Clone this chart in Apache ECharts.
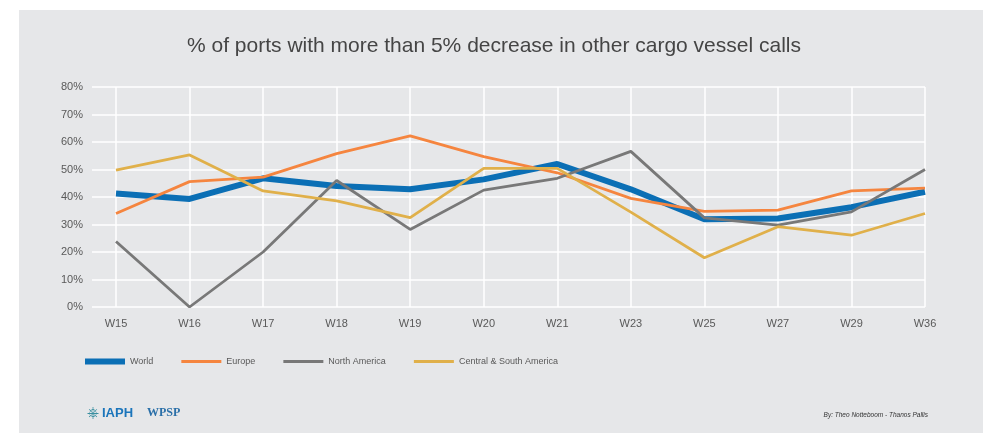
<!DOCTYPE html>
<html>
<head>
<meta charset="utf-8">
<script src="https://cdn.jsdelivr.net/npm/echarts@6/dist/echarts.min.js"></script>
<style>
    html, body { margin: 0; padding: 0; background: #ffffff; }
    #panel { position: absolute; left: 19px; top: 10px; width: 964px; height: 423px; background: #e6e7e9; }
</style>
</head>
<body>
<div id="panel"></div>
<script>
    // data
    var weeks = ['W15', 'W16', 'W17', 'W18', 'W19', 'W20', 'W21', 'W23', 'W25', 'W27', 'W29', 'W36'];
    var world = [41.3, 39.3, 46.8, 44, 42.8, 46.4, 52, 42.8, 31.9, 32.2, 36.3, 41.9];
    var europe = [34, 45.6, 47.2, 55.8, 62.2, 54.7, 48.8, 39.5, 34.8, 35.2, 42.2, 43.2];
    var northAmerica = [23.8, 0, 20, 46, 28.2, 42.5, 46.8, 56.6, 32.4, 29.8, 34.6, 50];
    var centralSouth = [49.8, 55.3, 42.2, 38.6, 32.5, 50.4, 50.4, 34.5, 17.9, 29.2, 26.1, 34];
    var yTicks = [0, 10, 20, 30, 40, 50, 60, 70, 80];

    var chart = echarts.init(document.getElementById('panel'));
    var labelColor = '#595959';
    var font = 'Liberation Sans, Arial, sans-serif';

    // flat bar icons for the legend (thick one for World, thin for the rest)
    var thickIcon = 'path://M0,0H40V6H0Z';
    var thinIcon = 'path://M0,0L40,0M0,1.6H40V4.4H0ZM0,6L40,6';

    var option = {
        backgroundColor: '#e6e7e9',
        animation: false,
        textStyle: {fontFamily: font},
        title: {
            text: '% of ports with more than 5% decrease in other cargo vessel calls',
            left: 168,
            top: 26,
            padding: 0,
            textStyle: {fontSize: 21, fontWeight: 'normal', color: '#454545', fontFamily: font}
        },
        legend: {
            left: 61,
            top: 342,
            itemWidth: 40,
            itemHeight: 6,
            itemGap: 28,
            textStyle: {fontSize: 9, color: labelColor},
            data: [
                {name: 'World', icon: thickIcon},
                {name: 'Europe', icon: thinIcon},
                {name: 'North America', icon: thinIcon},
                {name: 'Central & South America', icon: thinIcon}
            ]
        },
        // grid 0 carries the horizontal grid lines, grid 1 the weeks
        grid: [
            {left: 73, right: 58, top: 77, bottom: 126},
            {left: 97, right: 58, top: 77, bottom: 126}
        ],
        xAxis: [
            {type: 'value', gridIndex: 0, show: false, min: 0, max: 1},
            {
                type: 'category', gridIndex: 1, data: weeks, boundaryGap: false,
                axisLine: {show: false}, axisTick: {show: false},
                axisLabel: {color: labelColor, fontSize: 11, margin: 11},
                splitLine: {show: true, lineStyle: {color: '#ffffff', width: 1.5}}
            }
        ],
        yAxis: [
            {
                type: 'value', gridIndex: 0, min: yTicks[0], max: yTicks[yTicks.length - 1], interval: 10,
                axisLine: {show: false}, axisTick: {show: false},
                axisLabel: {color: labelColor, fontSize: 11, margin: 9, formatter: '{value}%'},
                splitLine: {lineStyle: {color: '#ffffff', width: 1.5}}
            },
            {
                type: 'value', gridIndex: 1, min: yTicks[0], max: yTicks[yTicks.length - 1], interval: 10,
                show: false, splitLine: {show: false}
            }
        ],
        series: [
            {name: 'World', type: 'line', xAxisIndex: 1, yAxisIndex: 1, data: world, symbol: 'none',
                lineStyle: {color: '#0b6fb5', width: 6}, itemStyle: {color: '#0b6fb5'}},
            {name: 'Europe', type: 'line', xAxisIndex: 1, yAxisIndex: 1, data: europe, symbol: 'none',
                lineStyle: {color: '#f5853f', width: 2.8}, itemStyle: {color: '#f5853f'}},
            {name: 'North America', type: 'line', xAxisIndex: 1, yAxisIndex: 1, data: northAmerica, symbol: 'none',
                lineStyle: {color: '#787878', width: 2.8}, itemStyle: {color: '#787878'}},
            {name: 'Central & South America', type: 'line', xAxisIndex: 1, yAxisIndex: 1, data: centralSouth, symbol: 'none',
                lineStyle: {color: '#e0b04a', width: 2.8}, itemStyle: {color: '#e0b04a'}}
        ],
        graphic: [
            {type: 'text', left: 68, top: 396, style: {text: '⎈', fontSize: 15, fill: '#3a8fa0'}},
            {type: 'text', left: 83, top: 397, style: {text: 'IAPH', fontSize: 13, fontWeight: 'bold', fill: '#1b75bb', fontFamily: font}},
            {type: 'text', left: 128, top: 397, style: {text: 'WPSP', fontSize: 12, fontWeight: 'bold', fill: '#2a6fa8', fontFamily: 'Liberation Serif, serif'}},
            {type: 'text', right: 55, top: 402, style: {text: 'By: Theo Notteboom - Thanos Pallis', fontSize: 6.5, fontStyle: 'italic', fill: '#333333', fontFamily: font}}
        ]
    };

    chart.setOption(option);
</script>
</body>
</html>
